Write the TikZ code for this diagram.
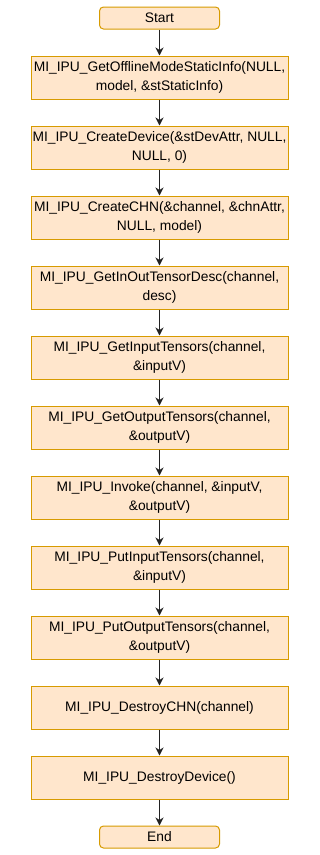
\documentclass[tikz,border=0pt]{standalone}
\usepackage{fontspec}
\setmainfont{Liberation Sans}
\usetikzlibrary{arrows.meta}
\begin{document}
\begin{tikzpicture}[x=1pt,y=-1pt,
  box/.style={draw=boxline,fill=boxfill,line width=1pt,minimum width=257pt,minimum height=43pt,inner sep=0pt,align=center,font=\fontsize{13.8}{18.5}\selectfont},
  term/.style={box,rounded corners=4pt,minimum width=120pt,minimum height=22pt},
  arr/.style={draw=arrline,line width=1.3pt,-{Stealth[length=8pt,width=8pt,inset=2.5pt]}}]
\definecolor{boxfill}{HTML}{FFE6CC}
\definecolor{boxline}{HTML}{D79B00}
\definecolor{arrline}{HTML}{222222}
\useasboundingbox[fill=white] (0,0) rectangle (319,855);
\node[term] (s) at (159.5,18) {Start};
\node[box] (b1) at (159.5,77.5) {MI\_IPU\_GetOfflineModeStaticInfo(NULL,\\model, \&stStaticInfo)};
\node[box] (b2) at (159.5,147.5) {MI\_IPU\_CreateDevice(\&stDevAttr, NULL,\\NULL, 0)};
\node[box] (b3) at (159.5,217.5) {MI\_IPU\_CreateCHN(\&channel, \&chnAttr,\\NULL, model)};
\node[box] (b4) at (159.5,287.5) {MI\_IPU\_GetInOutTensorDesc(channel,\\desc)};
\node[box] (b5) at (159.5,357.5) {MI\_IPU\_GetInputTensors(channel,\\\&inputV)};
\node[box] (b6) at (159.5,427.5) {MI\_IPU\_GetOutputTensors(channel,\\\&outputV)};
\node[box] (b7) at (159.5,497.5) {MI\_IPU\_Invoke(channel, \&inputV,\\\&outputV)};
\node[box] (b8) at (159.5,567.5) {MI\_IPU\_PutInputTensors(channel,\\\&inputV)};
\node[box] (b9) at (159.5,637.5) {MI\_IPU\_PutOutputTensors(channel,\\\&outputV)};
\node[box] (b10) at (159.5,707.5) {MI\_IPU\_DestroyCHN(channel)};
\node[box] (b11) at (159.5,777.5) {MI\_IPU\_DestroyDevice()};
\node[term] (e) at (159.5,837) {End};
\foreach \a/\b in {s/b1,b1/b2,b2/b3,b3/b4,b4/b5,b5/b6,b6/b7,b7/b8,b8/b9,b9/b10,b10/b11,b11/e}
  \draw[arr] (\a) -- (\b);
\end{tikzpicture}
\end{document}
